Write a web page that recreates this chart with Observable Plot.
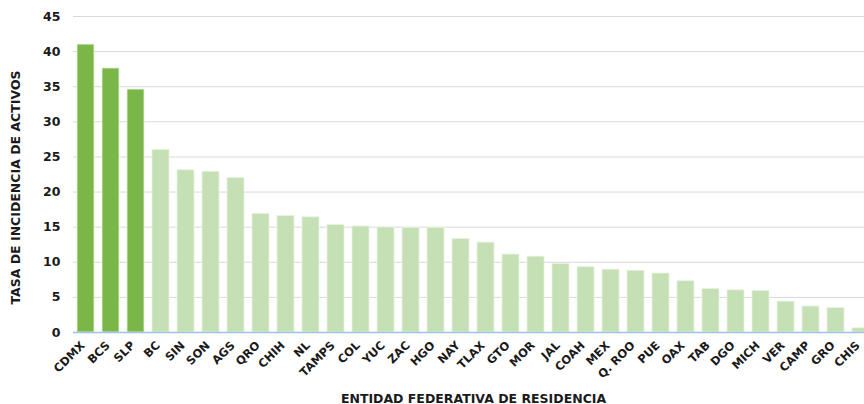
<!DOCTYPE html>
<html><head><meta charset="utf-8">
<script src="https://cdn.jsdelivr.net/npm/d3@7"></script>
<script src="https://cdn.jsdelivr.net/npm/@observablehq/plot@0.6"></script>
<style>html,body{margin:0;padding:0;overflow:hidden;background:#fff;width:864px} #chart{width:864px;overflow:hidden} svg{display:block}</style>
</head><body><div id="chart"></div>
<script>
const states = ["CDMX","BCS","SLP","BC","SIN","SON","AGS","QRO","CHIH","NL","TAMPS","COL","YUC","ZAC","HGO","NAY","TLAX","GTO","MOR","JAL","COAH","MEX","Q. ROO","PUE","OAX","TAB","DGO","MICH","VER","CAMP","GRO","CHIS"];
const values = [41.0,37.6,34.6,26.0,23.1,22.9,22.0,16.9,16.6,16.4,15.3,15.1,14.95,14.9,14.9,13.3,12.8,11.1,10.8,9.75,9.3,8.95,8.8,8.4,7.3,6.2,6.0,5.9,4.4,3.7,3.5,0.6];
const highlighted = ["CDMX","BCS","SLP"];
const yTicks = [0,5,10,15,20,25,30,35,40,45];
const darkGreen = "#7ab648";
const lightGreen = "#c5e0b4";
const data = states.map((s,i)=>({state:s, value:values[i], color: highlighted.includes(s) ? darkGreen : lightGreen}));
const font = "'DejaVu Sans', sans-serif";
const chart = Plot.plot({
  width: 864, height: 404,
  marginLeft: 73, marginRight: -9, marginTop: 16, marginBottom: 72,
  style: {fontFamily: font, fontWeight: "bold", fontSize: "12px", color: "#1a1a1a", background: "#fff", overflow: "hidden"},
  x: {domain: states, paddingInner: 0.32, paddingOuter: 0.16, align: 0.5, label: null},
  y: {domain: [0,45], ticks: yTicks, label: null},
  color: {type: "identity"},
  marks: [
    Plot.gridY(yTicks, {stroke: "#d9d9d9", strokeOpacity: 1}),
    Plot.barY(data, {x: "state", y: "value", fill: "color", stroke: "#e8f3e0", strokeWidth: 0.8}),
    Plot.ruleY([0], {stroke: "#9dc3e6", strokeWidth: 1.5}),
    Plot.axisY(yTicks, {tickSize: 0, tickPadding: 13, fontSize: 12.5, label: null}),
    Plot.axisX({tickRotate: -45, tickSize: 0, tickPadding: 10, dx: -3, dy: 1, fontSize: 11.5, label: null}),
    Plot.text(["TASA DE INCIDENCIA DE ACTIVOS"], {frameAnchor: "left", textAnchor: "middle", rotate: -90, dx: -58, dy: 13, fontSize: 12.5, fontWeight: "bold"}),
    Plot.text(["ENTIDAD FEDERATIVA DE RESIDENCIA"], {frameAnchor: "bottom", dy: 70, fontSize: 12.5, fontWeight: "bold"})
  ]
});
document.getElementById("chart").append(chart);
</script>
</body></html>
